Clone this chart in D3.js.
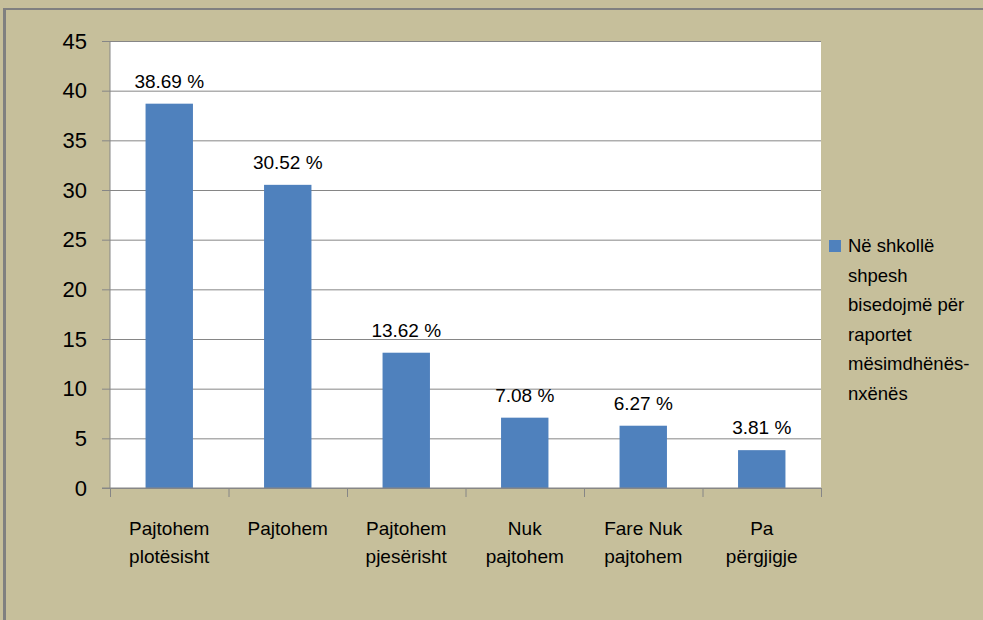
<!DOCTYPE html>
<html>
<head>
<meta charset="utf-8">
<script src="https://cdn.jsdelivr.net/npm/d3@7.9.0/dist/d3.min.js"></script>
<style>
  body { margin: 0; background: #c6bf9b; }
  svg { display: block; font-family: "Liberation Sans", Arial, sans-serif; }
</style>
</head>
<body>
<svg id="chart" width="983" height="620"></svg>
<script>
// chart data
const categories = [
    ['Pajtohem', 'plotësisht'],
    ['Pajtohem'],
    ['Pajtohem', 'pjesërisht'],
    ['Nuk', 'pajtohem'],
    ['Fare Nuk', 'pajtohem'],
    ['Pa', 'përgjigje']
];
const values = [38.69, 30.52, 13.62, 7.08, 6.27, 3.81];
const yTicks = [0, 5, 10, 15, 20, 25, 30, 35, 40, 45];
const legendLines = ['Në shkollë', 'shpesh', 'bisedojmë për', 'raportet', 'mësimdhënës-', 'nxënës'];

const svg = d3.select('#chart');
const W = 983, H = 620;
const plot = { left: 110, right: 821, top: 41, bottom: 488 };
const barColor = '#4f81bd';
const gridColor = '#868686';

// background + frame
svg.append('rect').attr('width', W).attr('height', H).attr('fill', '#c6bf9b');
svg.append('rect').attr('x', 3).attr('y', 8).attr('width', W - 3).attr('height', 2).attr('fill', '#808080');
svg.append('rect').attr('x', 3).attr('y', 8).attr('width', 3).attr('height', H - 8).attr('fill', '#808080');

// plot area
svg.append('rect')
    .attr('x', plot.left).attr('y', plot.top)
    .attr('width', plot.right - plot.left).attr('height', plot.bottom - plot.top)
    .attr('fill', '#ffffff');

const y = d3.scaleLinear().domain([0, 45]).range([plot.bottom, plot.top]);
const x = d3.scaleBand()
    .domain(d3.range(values.length))
    .range([plot.left, plot.right])
    .paddingInner(0.6)
    .paddingOuter(0.3);
const xEdges = d3.scaleLinear().domain([0, values.length]).range([plot.left, plot.right]);

// gridlines
svg.append('g')
    .attr('transform', `translate(${plot.left},0)`)
    .call(d3.axisLeft(y).tickValues(yTicks).tickSize(-(plot.right - plot.left)).tickFormat(''))
    .call(g => g.select('.domain').remove())
    .call(g => g.selectAll('line').attr('stroke', gridColor));

// y axis
svg.append('g')
    .attr('transform', `translate(${plot.left},0)`)
    .call(d3.axisLeft(y).tickValues(yTicks).tickSize(8).tickPadding(15))
    .call(g => g.select('.domain').attr('stroke', gridColor).attr('d', `M0,${plot.top}V${plot.bottom}`))
    .call(g => g.selectAll('line').attr('stroke', gridColor))
    .call(g => g.selectAll('text').attr('font-size', 22).attr('fill', '#000').attr('font-family', '"Liberation Sans", Arial, sans-serif'));

// bars
svg.append('g').selectAll('rect')
    .data(values)
    .join('rect')
    .attr('x', (d, i) => x(i))
    .attr('y', d => y(d))
    .attr('width', x.bandwidth())
    .attr('height', d => y(0) - y(d))
    .attr('fill', barColor);

// value labels
svg.append('g').selectAll('text')
    .data(values)
    .join('text')
    .attr('x', (d, i) => x(i) + x.bandwidth() / 2)
    .attr('y', d => y(d) - 16)
    .attr('text-anchor', 'middle')
    .attr('font-size', 19)
    .attr('fill', '#000')
    .text(d => `${d.toFixed(2)} %`);

// x axis with ticks at category edges
svg.append('g')
    .attr('transform', `translate(0,${plot.bottom})`)
    .call(d3.axisBottom(xEdges).tickValues(d3.range(values.length + 1)).tickSize(9).tickFormat(''))
    .call(g => g.select('.domain').attr('stroke', gridColor).attr('d', `M${plot.left - 8},0H${plot.right}`))
    .call(g => g.selectAll('line').attr('stroke', gridColor));

// category labels
const catG = svg.append('g').selectAll('text')
    .data(categories)
    .join('text')
    .attr('text-anchor', 'middle')
    .attr('font-size', 19)
    .attr('fill', '#000');
catG.selectAll('tspan')
    .data((d, i) => d.map(line => ({ line, i })))
    .join('tspan')
    .attr('x', d => x(d.i) + x.bandwidth() / 2)
    .attr('y', (d, j) => 535 + j * 28)
    .text(d => d.line);

// legend
const legend = svg.append('g');
legend.append('rect')
    .attr('x', 829).attr('y', 240)
    .attr('width', 12).attr('height', 12)
    .attr('fill', barColor);
legend.selectAll('text')
    .data(legendLines)
    .join('text')
    .attr('x', 848)
    .attr('y', (d, i) => 252 + i * 29.5)
    .attr('font-size', 18.5)
    .attr('fill', '#000')
    .text(d => d);
</script>
</body>
</html>
